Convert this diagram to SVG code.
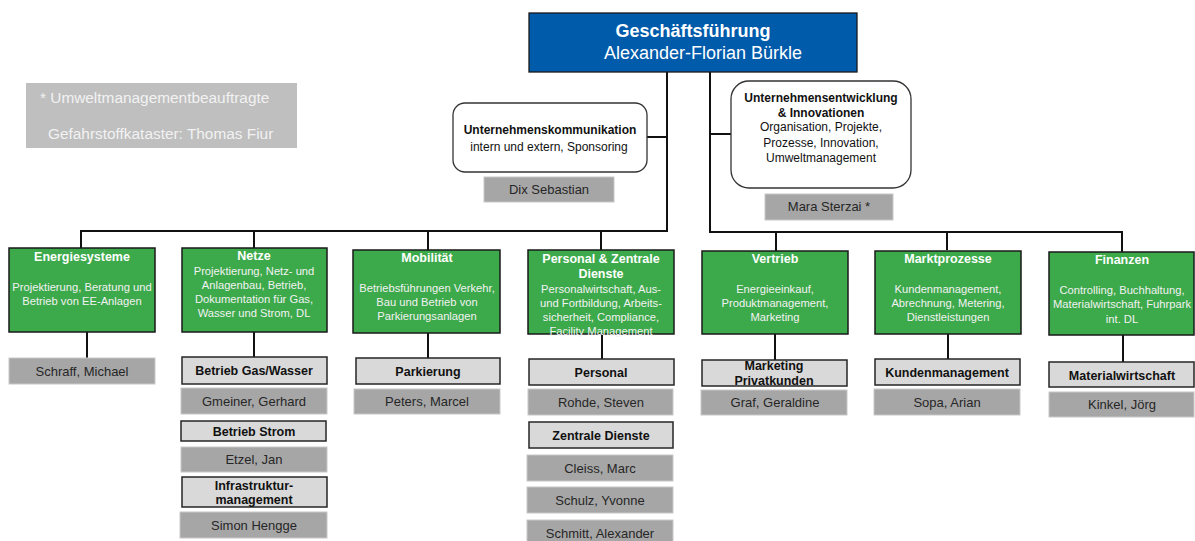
<svg xmlns="http://www.w3.org/2000/svg" width="1195" height="541" viewBox="0 0 1195 541">
<style>
text{font-family:"Liberation Sans",Arial,sans-serif;text-anchor:middle}
.con{fill:none;stroke:#111;stroke-width:2}
.green{fill:#3CA94A;stroke:#1a1a1a;stroke-width:1.5}
.gt{fill:#fff;font-weight:bold;font-size:12.5px}
.gd{fill:#F2F2F2;font-size:11.2px}
.person{fill:#A6A6A6;stroke:#C8C8C8;stroke-width:1}
.pt{fill:#262626;font-size:13px}
.sub{fill:#D9D9D9;stroke:#262626;stroke-width:1.5}
.st{fill:#111;font-weight:bold;font-size:12.5px}
.round{fill:#fff;stroke:#333;stroke-width:1.3}
.rt{fill:#111;font-size:12px}
.rb{fill:#111;font-size:12px;font-weight:bold}
</style>
<rect width="1195" height="541" fill="#fff"/>
<g id="connectors">
<polyline class="con" points="667,72 667,231 81,231 81,249"/>
<line class="con" x1="254" y1="231" x2="254" y2="249"/>
<line class="con" x1="428" y1="231" x2="428" y2="250"/>
<line class="con" x1="601" y1="231" x2="601" y2="250"/>
<polyline class="con" points="710,72 710,232 1122,232 1122,252"/>
<line class="con" x1="776" y1="232" x2="776" y2="251"/>
<line class="con" x1="947" y1="232" x2="947" y2="250"/>
<line class="con" x1="647" y1="137" x2="667" y2="137"/>
<line class="con" x1="710" y1="134" x2="731" y2="134"/>
<line class="con" x1="87" y1="332" x2="87" y2="358"/>
<line class="con" x1="254" y1="332" x2="254" y2="357"/>
<line class="con" x1="428" y1="333" x2="428" y2="358"/>
<line class="con" x1="602" y1="334" x2="602" y2="359"/>
<line class="con" x1="775" y1="334" x2="775" y2="360"/>
<line class="con" x1="948" y1="334" x2="948" y2="359"/>
<line class="con" x1="1123" y1="335" x2="1123" y2="362"/>
</g>
<g id="legend">
<rect x="26" y="83" width="271" height="65" fill="#BFBFBF"/>
<text x="40" y="103" style="text-anchor:start;fill:#F2F2F2;font-size:15.4px">* Umweltmanagementbeauftragte</text>
<text x="48" y="139" style="text-anchor:start;fill:#F2F2F2;font-size:15.4px">Gefahrstoffkataster: Thomas Fiur</text>
</g>
<g id="geschaeftsfuehrung">
<rect x="529" y="13" width="328" height="59" fill="#005BAB" stroke="#1a1a1a" stroke-width="1.3"/>
<text x="693" y="37" style="fill:#fff;font-weight:bold;font-size:18px">Geschäftsführung</text>
<text x="703" y="59" style="fill:#fff;font-size:18px">Alexander-Florian Bürkle</text>
</g>
<g id="unternehmenskommunikation">
<rect class="round" x="453" y="103" width="194" height="69" rx="12"/>
<text class="rb" x="550" y="134">Unternehmenskommunikation</text>
<text class="rt" x="549" y="151">intern und extern, Sponsoring</text>
</g>
<g id="dix">
<rect class="person" x="484" y="177" width="130" height="25"/>
<text class="pt" x="549" y="194">Dix Sebastian</text>
</g>
<g id="unternehmensentwicklung">
<rect class="round" x="731" y="81" width="180" height="107" rx="18"/>
<text class="rb" x="821" y="102">Unternehmensentwicklung</text>
<text class="rb" x="821" y="117">&amp; Innovationen</text>
<text class="rt" x="821" y="131">Organisation, Projekte,</text>
<text class="rt" x="821" y="147">Prozesse, Innovation,</text>
<text class="rt" x="821" y="162">Umweltmanagement</text>
</g>
<g id="sterzai">
<rect class="person" x="765" y="194" width="128" height="26"/>
<text class="pt" x="829" y="211">Mara Sterzai *</text>
</g>
<g id="energiesysteme">
<rect class="green" x="9" y="248" width="146" height="84"/>
<text class="gt" x="82" y="261">Energiesysteme</text>
<text class="gd" x="82" y="291">Projektierung, Beratung und</text>
<text class="gd" x="82" y="305">Betrieb von EE-Anlagen</text>
</g>
<g id="schraff">
<rect class="person" x="9" y="358" width="146" height="26"/>
<text class="pt" x="82" y="376">Schraff, Michael</text>
</g>
<g id="netze">
<rect class="green" x="182" y="248" width="145" height="84"/>
<text class="gt" x="254" y="260">Netze</text>
<text class="gd" x="254" y="275">Projektierung, Netz- und</text>
<text class="gd" x="254" y="289">Anlagenbau, Betrieb,</text>
<text class="gd" x="254" y="303">Dokumentation für Gas,</text>
<text class="gd" x="254" y="317">Wasser und Strom, DL</text>
</g>
<g id="betrieb-gas-wasser">
<rect class="sub" x="182" y="357" width="145" height="27"/>
<text class="st" x="254" y="375">Betrieb Gas/Wasser</text>
</g>
<g id="gmeiner">
<rect class="person" x="181" y="388" width="146" height="26"/>
<text class="pt" x="254" y="406">Gmeiner, Gerhard</text>
</g>
<g id="betrieb-strom">
<rect class="sub" x="181" y="421" width="145" height="20"/>
<text class="st" x="254" y="436">Betrieb Strom</text>
</g>
<g id="etzel">
<rect class="person" x="181" y="447" width="146" height="25"/>
<text class="pt" x="254" y="464">Etzel, Jan</text>
</g>
<g id="infrastruktur">
<rect class="sub" x="182" y="477" width="145" height="30"/>
<text class="st" x="254" y="490">Infrastruktur-</text>
<text class="st" x="254" y="504">management</text>
</g>
<g id="hengge">
<rect class="person" x="180" y="512" width="147" height="26"/>
<text class="pt" x="254" y="530">Simon Hengge</text>
</g>
<g id="mobilitaet">
<rect class="green" x="353" y="250" width="147" height="83"/>
<text class="gt" x="427" y="262">Mobilität</text>
<text class="gd" x="427" y="292">Betriebsführungen Verkehr,</text>
<text class="gd" x="427" y="306">Bau und Betrieb von</text>
<text class="gd" x="427" y="320">Parkierungsanlagen</text>
</g>
<g id="parkierung">
<rect class="sub" x="356" y="358" width="144" height="26"/>
<text class="st" x="428" y="376">Parkierung</text>
</g>
<g id="peters">
<rect class="person" x="354" y="389" width="146" height="25"/>
<text class="pt" x="427" y="406">Peters, Marcel</text>
</g>
<g id="personal-zentrale-dienste">
<rect class="green" x="528" y="250" width="146" height="84"/>
<text class="gt" x="601" y="263">Personal &amp; Zentrale</text>
<text class="gt" x="601" y="278">Dienste</text>
<text class="gd" x="601" y="293">Personalwirtschaft, Aus-</text>
<text class="gd" x="601" y="307">und Fortbildung, Arbeits-</text>
<text class="gd" x="601" y="321">sicherheit, Compliance,</text>
<text class="gd" x="601" y="335">Facility Management</text>
</g>
<g id="personal">
<rect class="sub" x="529" y="359" width="145" height="26"/>
<text class="st" x="601" y="377">Personal</text>
</g>
<g id="rohde">
<rect class="person" x="528" y="389" width="145" height="26"/>
<text class="pt" x="601" y="407">Rohde, Steven</text>
</g>
<g id="zentrale-dienste">
<rect class="sub" x="529" y="422" width="144" height="26"/>
<text class="st" x="601" y="440">Zentrale Dienste</text>
</g>
<g id="cleiss">
<rect class="person" x="527" y="455" width="146" height="26"/>
<text class="pt" x="600" y="473">Cleiss, Marc</text>
</g>
<g id="schulz">
<rect class="person" x="527" y="487" width="146" height="26"/>
<text class="pt" x="600" y="505">Schulz, Yvonne</text>
</g>
<g id="schmitt">
<rect class="person" x="527" y="520" width="146" height="26"/>
<text class="pt" x="600" y="538">Schmitt, Alexander</text>
</g>
<g id="vertrieb">
<rect class="green" x="702" y="251" width="146" height="83"/>
<text class="gt" x="775" y="263">Vertrieb</text>
<text class="gd" x="775" y="293">Energieeinkauf,</text>
<text class="gd" x="775" y="307">Produktmanagement,</text>
<text class="gd" x="775" y="321">Marketing</text>
</g>
<g id="marketing-privatkunden">
<rect class="sub" x="702" y="360" width="145" height="26"/>
<text class="st" x="774" y="370">Marketing</text>
<text class="st" x="774" y="385">Privatkunden</text>
</g>
<g id="graf">
<rect class="person" x="701" y="390" width="146" height="25"/>
<text class="pt" x="775" y="407">Graf, Geraldine</text>
</g>
<g id="marktprozesse">
<rect class="green" x="875" y="251" width="146" height="83"/>
<text class="gt" x="948" y="263">Marktprozesse</text>
<text class="gd" x="948" y="293">Kundenmanagement,</text>
<text class="gd" x="948" y="307">Abrechnung, Metering,</text>
<text class="gd" x="948" y="321">Dienstleistungen</text>
</g>
<g id="kundenmanagement">
<rect class="sub" x="875" y="359" width="145" height="26"/>
<text class="st" x="947" y="377">Kundenmanagement</text>
</g>
<g id="sopa">
<rect class="person" x="874" y="389" width="146" height="26"/>
<text class="pt" x="947" y="407">Sopa, Arian</text>
</g>
<g id="finanzen">
<rect class="green" x="1049" y="252" width="145" height="83"/>
<text class="gt" x="1122" y="264">Finanzen</text>
<text class="gd" x="1122" y="294">Controlling, Buchhaltung,</text>
<text class="gd" x="1122" y="308">Materialwirtschaft, Fuhrpark</text>
<text class="gd" x="1122" y="323">int. DL</text>
</g>
<g id="materialwirtschaft">
<rect class="sub" x="1049" y="362" width="145" height="25"/>
<text class="st" x="1122" y="380">Materialwirtschaft</text>
</g>
<g id="kinkel">
<rect class="person" x="1049" y="392" width="145" height="25"/>
<text class="pt" x="1122" y="409">Kinkel, Jörg</text>
</g>
</svg>
